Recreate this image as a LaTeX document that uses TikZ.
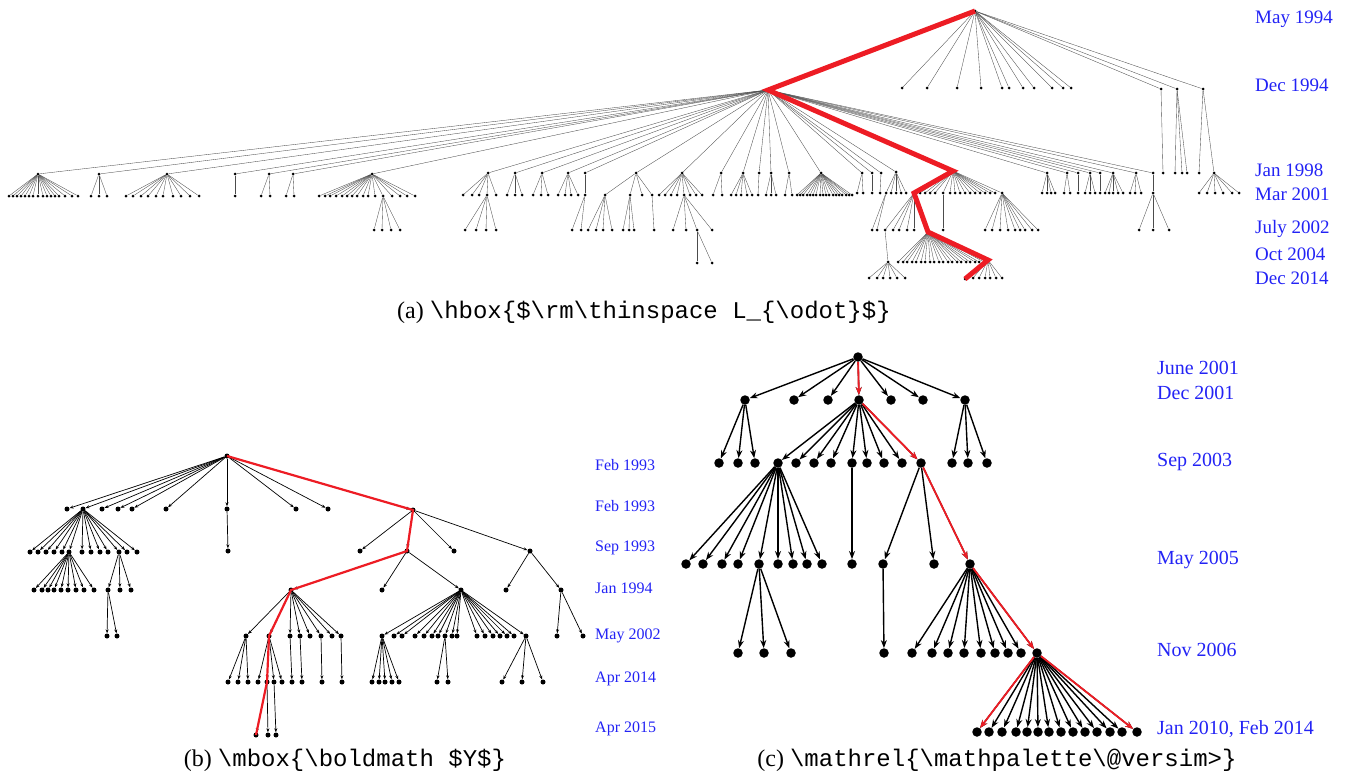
\documentclass[tikz,border=0pt]{standalone}
\usepackage{fontspec}
\setmainfont{Liberation Serif}
\setmonofont{Liberation Mono}
\usetikzlibrary{arrows.meta}
\definecolor{pathred}{RGB}{237,28,36}
\definecolor{dateblue}{RGB}{35,35,245}
\tikzset{
  adot/.style={circle,fill=black,inner sep=0pt,minimum size=3pt},
  aedge/.style={draw=black!70,line width=0.35pt},
  bdot/.style={circle,fill=black,inner sep=0pt,minimum size=5pt},
  bedge/.style={draw=black,line width=0.7pt,-{Stealth[length=4pt,width=3pt]}},
  cdot/.style={circle,fill=black,inner sep=0pt,minimum size=9.5pt},
  cedge/.style={draw=black,line width=1.4pt,-{Stealth[length=8pt,width=6pt]}},
  apath/.style={draw=pathred,line width=5pt},
  bpath/.style={draw=pathred,line width=2.2pt},
  cpath/.style={draw=pathred,line width=1.8pt,-{Stealth[length=8pt,width=6pt]}},
  date/.style={anchor=west,text=dateblue,inner sep=0pt},
  adate/.style={date,font=\fontsize{19}{19}\selectfont},
  bdate/.style={date,font=\fontsize{16}{16}\selectfont},
  cdate/.style={date,font=\fontsize{20}{20}\selectfont},
  caption/.style={inner sep=0pt,font=\fontsize{24}{24}\selectfont}
}
\newcommand\kid[4]{\node[#1dot] (#3) at (#4) {}; \draw[#1edge] (#2) -- (#3);}
\newcommand\fan[4]{\foreach \xx [count=\i] in {#4} {\node[#1dot] (#2-\i) at (\xx,#3) {}; \draw[#1edge] (#2) -- (#2-\i);}}
\begin{document}
\begin{tikzpicture}[x=1pt,y=-1pt]
\useasboundingbox (0,0) rectangle (1346,779);

\node[adot] (r) at (975,11) {};
\kid{a}{r}{h}{768,90}
\fan{a}{r}{88}{902,927,957,981,1002,1009,1023,1034,1052,1063,1071}
\kid{a}{r}{ra}{1161,89} \kid{a}{ra}{ra1}{1163,173}
\kid{a}{r}{rb}{1177,89} \fan{a}{rb}{173}{1175,1182,1187}
\kid{a}{r}{rc}{1203,89} \kid{a}{rc}{rc1}{1199,173} \kid{a}{rc}{rc2}{1214,173}
\fan{a}{rc2}{193}{1199,1207,1215,1223,1232,1239}

\kid{a}{h}{h1}{38,174} \fan{a}{h1}{196}{9,13,17,21,25,29,33,38,43,47,51,55,59,65,72,78}
\kid{a}{h}{h2}{99,174} \fan{a}{h2}{196}{91,99,107}
\kid{a}{h}{h3}{167,174} \fan{a}{h3}{196}{126,133,141,148,156,163,173,181,190,199}
\kid{a}{h}{h4}{235,174} \fan{a}{h4}{196}{235}
\kid{a}{h}{h5}{269,174} \fan{a}{h5}{196}{261,270}
\kid{a}{h}{h6}{293,174} \fan{a}{h6}{196}{286,294}
\kid{a}{h}{h7}{372,174} \fan{a}{h7}{196}{319,325,330,336,342,347,352,357,363,368,375,383,392,400,407,415}
\fan{a}{h7-12}{230}{374,382,391,400}
\kid{a}{h}{h8}{488,173} \fan{a}{h8}{195}{463,472,479,487,496} \fan{a}{h8-4}{230}{465,476,486,496}
\kid{a}{h}{h9}{515,173} \fan{a}{h9}{195}{507,515,522}
\kid{a}{h}{h10}{542,173} \fan{a}{h10}{195}{533,541,548}
\kid{a}{h}{h11}{568,173} \fan{a}{h11}{195}{558,565,571,578}
\kid{a}{h}{h12}{585,173} \fan{a}{h12}{195}{585} \fan{a}{h12-1}{230}{572,581}
\kid{a}{h}{h13}{636,173} \fan{a}{h13}{195}{605,630,642,652}
\fan{a}{h13-1}{230}{588,596,603,612} \fan{a}{h13-2}{230}{623,629,634} \fan{a}{h13-4}{230}{654}
\kid{a}{h}{h14}{682,173} \fan{a}{h14}{195}{659,665,671,677,684,690,696,702}
\fan{a}{h14-5}{230}{673,686,697,712} \fan{a}{h14-5-3}{263}{697,712}
\kid{a}{h}{h15}{721,173} \fan{a}{h15}{195}{713,722}
\kid{a}{h}{h16}{743,173} \fan{a}{h16}{195}{731,736,741,747,752}
\kid{a}{h}{h17}{759,173} \fan{a}{h17}{195}{758}
\kid{a}{h}{h18}{771,173} \fan{a}{h18}{195}{766,771,776}
\kid{a}{h}{h19}{789,173} \fan{a}{h19}{195}{785,792}
\kid{a}{h}{h20}{821,173} \fan{a}{h20}{195}{797,800,803,807,810,813,816,820,823,826,829,833,836,839,842,846,849,852}
\kid{a}{h}{h21}{862,173} \fan{a}{h21}{193}{857,863}
\kid{a}{h}{h22}{872,173} \fan{a}{h22}{193}{872}
\kid{a}{h}{h23}{881,173} \fan{a}{h23}{193}{880}
\kid{a}{h}{h24}{896,172} \fan{a}{h24}{193}{886,891,896,901,906} \fan{a}{h24-1}{230}{872,877}
\kid{a}{h}{h25}{1047,173} \fan{a}{h25}{193}{1042,1047,1051,1055}
\kid{a}{h}{h26}{1067,173} \fan{a}{h26}{193}{1064,1070}
\kid{a}{h}{h27}{1078,173} \fan{a}{h27}{193}{1078}
\kid{a}{h}{h28}{1090,173} \fan{a}{h28}{193}{1085,1090,1095}
\kid{a}{h}{h29}{1100,173} \fan{a}{h29}{193}{1100}
\kid{a}{h}{h30}{1113,173} \fan{a}{h30}{193}{1105,1109,1113,1118,1123}
\kid{a}{h}{h31}{1136,173} \fan{a}{h31}{193}{1130,1135,1141}
\kid{a}{h}{h32}{1153,173} \fan{a}{h32}{193}{1153} \fan{a}{h32-1}{230}{1139,1153,1169}

\kid{a}{h}{p1}{953,171}
\kid{a}{p1}{p2}{914,193}
\fan{a}{p1}{193}{920,925,930,935,950,955,960,965,970,975,980,985,990,995}
\kid{a}{p1}{p1a}{943,193} \fan{a}{p1a}{230}{943}
\kid{a}{p1}{p1b}{1002,193} \fan{a}{p1b}{230}{985,992,1000,1008,1015,1020,1025,1032,1038}
\kid{a}{p2}{p3}{928,232}
\fan{a}{p2}{230}{885,893,899,907,914}
\fan{a}{p2-1}{262}{888} \fan{a}{p2-1-1}{278}{869,877,883,890,897,905}
\kid{a}{p3}{p4}{988,260}
\fan{a}{p3}{262}{898,903,907,912,916,921,925,930,934,939,943,948,952,957,961,966,970,975,979,984}
\kid{a}{p4}{p5}{965,279}
\fan{a}{p4}{278}{973,979,985,990,996,1002}
\draw[apath] (r.center) -- (h.center) -- (p1.center) -- (p2.center) -- (p3.center) -- (p4.center) -- (p5.center);

\node[adate] (da1) at (1255,19) {May 1994};
\node[adate] (da2) at (1255,85) {Dec 1994};
\node[adate] (da3) at (1255,170) {Jan 1998};
\node[adate] (da4) at (1255,194) {Mar 2001};
\node[adate] (da5) at (1255,229) {July 2002};
\node[adate] (da6) at (1255,254) {Oct 2004};
\node[adate] (da7) at (1255,278) {Dec 2014};
\node[caption] (capa) at (644,312) {(a) \texttt{\textbackslash hbox\{\$\textbackslash rm\textbackslash thinspace L\_\{\textbackslash odot\}\$\}}};

\node[bdot] (b0) at (227,456) {};
\fan{b}{b0}{509}{67,83,102,118,132,166,227,296,328}
\kid{b}{b0}{q1}{413,510}
\fan{b}{b0-2}{552}{30,38,46,54,62,69,82,91,100,108,119,127,137}
\fan{b}{b0-2-6}{590}{34,42,48,54,61,68,76,84,94}
\fan{b}{b0-2-11}{590}{108,120,131} \fan{b}{b0-2-11-1}{636}{107,117}
\fan{b}{b0-7}{551}{228}
\kid{b}{q1}{q2}{407,551}
\fan{b}{q1}{551}{360,454,530}
\fan{b}{q1-3}{590}{506,561} \fan{b}{q1-3-2}{636}{557,583}
\kid{b}{q2}{q3}{291,590}
\fan{b}{q2}{590}{382,461}
\fan{b}{q2-2}{636}{382,394,402,415,424,432,438,445,452,457,477,485,493,500,507,514,526}
\fan{b}{q2-2-1}{682}{372,379,385,392,399}
\fan{b}{q2-2-8}{682}{437,448}
\fan{b}{q2-2-17}{682}{502,522,543}
\kid{b}{q3}{q4}{269,636}
\fan{b}{q3}{636}{246,290,300,310,321,332,341}
\fan{b}{q3-1}{682}{228,238,248}
\fan{b}{q3-2}{682}{292} \fan{b}{q3-3}{682}{302} \fan{b}{q3-5}{682}{322} \fan{b}{q3-7}{682}{342}
\kid{b}{q4}{q5}{267,682}
\fan{b}{q4}{682}{258,274,282} \fan{b}{q4-2}{735}{276}
\kid{b}{q5}{q6}{256,735}
\fan{b}{q5}{735}{268}
\draw[bpath] (b0.center) -- (q1.center) -- (q2.center) -- (q3.center) -- (q4.center) -- (q5.center) -- (q6.center);

\node[bdate] (db1) at (595,465) {Feb 1993};
\node[bdate] (db2) at (595,506) {Feb 1993};
\node[bdate] (db3) at (595,548) {Sep 1993};
\node[bdate] (db4) at (595,588) {Jan 1994};
\node[bdate] (db5) at (595,636) {May 2002};
\node[bdate] (db6) at (595,679) {Apr 2014};
\node[bdate] (db7) at (595,729) {Apr 2015};
\node[caption] (capb) at (345,760) {(b) \texttt{\textbackslash mbox\{\textbackslash boldmath \$Y\$\}}};

\node[cdot] (c0) at (858,357) {};
\fan{c}{c0}{400}{745,794,828,891,923,965}
\kid{c}{c0}{s1}{859,400}
\fan{c}{c0-1}{463}{719,738,755}
\fan{c}{c0-6}{463}{952,968,987}
\kid{c}{s1}{s2}{921,463}
\fan{c}{s1}{463}{778,796,814,831,852,867,884,902}
\fan{c}{s1-1}{564}{686,703,722,738,759,778,793,807,822}
\fan{c}{s1-1-5}{653}{738,764,791}
\fan{c}{s1-5}{564}{852}
\kid{c}{s2}{s3}{970,564}
\fan{c}{s2}{564}{883,934}
\fan{c}{s2-1}{653}{884}
\kid{c}{s3}{s4}{1037,653}
\fan{c}{s3}{653}{912,932,948,964,981,995,1008,1021}
\fan{c}{s4}{732}{977,989,1002,1016,1027,1038,1049,1061,1073,1085,1097,1110,1122,1137}
\draw[cpath] (c0) -- (s1);
\draw[cpath] (s1) -- (s2);
\draw[cpath] (s2) -- (s3);
\draw[cpath] (s3) -- (s4);
\draw[cpath] (s4) -- (s4-1);
\draw[cpath] (s4) -- (s4-14);

\node[cdate] (dc1) at (1157,368) {June 2001};
\node[cdate] (dc2) at (1157,393) {Dec 2001};
\node[cdate] (dc3) at (1157,462) {Sep 2003};
\node[cdate] (dc4) at (1157,560) {May 2005};
\node[cdate] (dc5) at (1157,650) {Nov 2006};
\node[cdate] (dc6) at (1157,729) {Jan 2010, Feb 2014};
\node[caption] (capc) at (997,760) {(c) \texttt{\textbackslash mathrel\{\textbackslash mathpalette\textbackslash @versim>\}}};
\end{tikzpicture}
\end{document}
